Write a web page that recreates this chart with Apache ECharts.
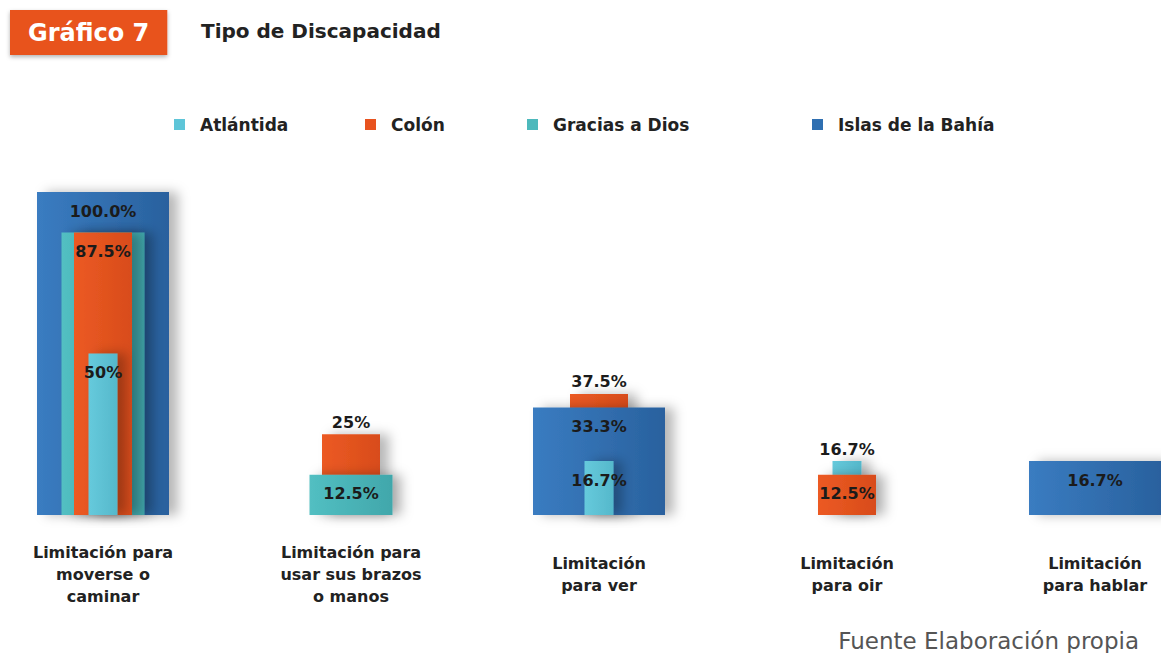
<!doctype html>
<html>
<head>
<meta charset="utf-8">
<title>Tipo de Discapacidad</title>
<script src="https://cdn.jsdelivr.net/npm/echarts@6/dist/echarts.min.js"></script>
<style>
    html, body {margin: 0; padding: 0; background: #fff;}
    #chart {width: 1161px; height: 653px;}
</style>
</head>
<body>
<div id="chart"></div>
<script type="text/javascript">
    // categorias del eje x
    var categories = [
        'Limitación para\nmoverse o\ncaminar',
        'Limitación para\nusar sus brazos\no manos',
        'Limitación\npara ver',
        'Limitación\npara oir',
        'Limitación\npara hablar'
    ];

    // porcentajes por departamento (null = sin barra)
    var atlantida      = [50, null, 16.7, 16.7, null];
    var colon          = [87.5, 25, 37.5, 12.5, null];
    var graciasADios   = [87.5, 12.5, null, null, null];
    var islasDeLaBahia = [100, null, 33.3, null, 16.7];

    // textos de las etiquetas tal como salen en el grafico
    var atlantidaLabels = ['50%', '', '16.7%', '16.7%', ''];
    var colonLabels     = ['87.5%', '25%', '37.5%', '12.5%', ''];
    var graciasLabels   = ['', '12.5%', '', '', ''];
    var islasLabels     = ['100.0%', '', '33.3%', '', '16.7%'];

    var FONT = 'DejaVu Sans';

    // estilo de cada serie (ancho de barra, colores, posicion de leyenda)
    var defs = [
        {name: 'Atlántida', values: atlantida, labels: atlantidaLabels, color: '#5ec5d8', light: '#66cadc', dark: '#55b8cb', width: 29, rank: 3, legendLeft: 174},
        {name: 'Colón', values: colon, labels: colonLabels, color: '#e8531f', light: '#ec5a23', dark: '#d84c1b', width: 58, rank: 2, legendLeft: 365},
        {name: 'Gracias a Dios', values: graciasADios, labels: graciasLabels, color: '#4db9bc', light: '#52bfc2', dark: '#41a7ab', width: 83, rank: 1, legendLeft: 527},
        {name: 'Islas de la Bahía', values: islasDeLaBahia, labels: islasLabels, color: '#2f6fb1', light: '#3a7cc1', dark: '#29619e', width: 132, rank: 0, legendLeft: 812}
    ];

    // la barra de mayor valor va atras
    function zOf(d, i) {
        return Math.round(3000 - d.values[i] * 10) + d.rank;
    }

    function makeSeries(d) {
        var data = [];
        d.values.forEach(function (v, i) {
            if (v != null) data.push([i, v]);
        });
        return {
            name: d.name,
            type: 'custom',
            itemStyle: {color: d.color},
            data: data,
            renderItem: function (params, api) {
                var i = api.value(0);
                var v = api.value(1);
                var top = api.coord([i, v]);
                var base = api.coord([i, 0]);
                var cx = top[0];
                var z = zOf(d, i);
                // si hay una barra mas ancha delante, la etiqueta va encima
                var covered = defs.some(function (o) {
                    return o !== d && o.values[i] != null && o.width > d.width && zOf(o, i) > z;
                });
                var children = [{
                    type: 'rect',
                    z2: z,
                    shape: {x: cx - d.width / 2, y: top[1], width: d.width, height: base[1] - top[1]},
                    style: {
                        fill: new echarts.graphic.LinearGradient(0, 0, 1, 0, [
                            {offset: 0, color: d.light},
                            {offset: 1, color: d.dark}
                        ]),
                        shadowBlur: 12,
                        shadowOffsetX: 9,
                        shadowColor: 'rgba(0,0,0,0.28)'
                    }
                }];
                var txt = d.labels[i];
                if (txt) {
                    children.push({
                        type: 'text',
                        z2: 9000,
                        x: cx,
                        y: covered ? top[1] - 12 : top[1] + 19,
                        style: {
                            text: txt,
                            fill: '#1b1b1b',
                            fontSize: 16,
                            fontWeight: 'bold',
                            fontFamily: FONT,
                            align: 'center',
                            verticalAlign: 'middle'
                        }
                    });
                }
                return {type: 'group', children: children};
            }
        };
    }

    var myChart = echarts.init(document.getElementById('chart'), null, {renderer: 'svg'});
    var option = {
        animation: false,
        backgroundColor: '#fff',
        title: [
            {
                text: 'Gráfico 7',
                left: 10, top: 10,
                padding: [8, 18, 7, 18],
                backgroundColor: '#e8531f',
                shadowColor: 'rgba(0,0,0,0.3)', shadowBlur: 4, shadowOffsetY: 2,
                textStyle: {color: '#fff', fontSize: 24, fontWeight: 'bold', fontFamily: FONT, lineHeight: 30}
            },
            {
                text: 'Tipo de Discapacidad',
                left: 196, top: 16,
                textStyle: {color: '#222', fontSize: 20, fontWeight: 'bold', fontFamily: FONT}
            },
            {
                text: 'Fuente Elaboración propia',
                right: 22, top: 629,
                padding: 0,
                textStyle: {color: '#555', fontSize: 23, fontWeight: 'normal', fontFamily: FONT}
            }
        ],
        legend: defs.map(function (d) {
            return {
                data: [d.name],
                left: d.legendLeft, top: 116,
                padding: 0,
                selectedMode: false,
                icon: 'path://M0,0h10v10h-10z',
                itemWidth: 31, itemHeight: 11,
                textStyle: {color: '#222', fontSize: 17, fontWeight: 'bold', fontFamily: FONT}
            };
        }),
        grid: {left: -21, right: -58, top: 192, bottom: 138, containLabel: false, outerBoundsMode: 'none'},
        xAxis: {
            type: 'category',
            data: categories,
            axisLine: {show: false},
            axisTick: {show: false},
            axisLabel: {
                interval: 0,
                margin: 59,
                verticalAlign: 'middle',
                lineHeight: 22,
                color: '#222',
                fontSize: 16,
                fontWeight: 'bold',
                fontFamily: FONT
            }
        },
        yAxis: {type: 'value', min: 0, max: 100, show: false},
        series: defs.map(makeSeries)
    };
    myChart.setOption(option);
</script>
</body>
</html>
